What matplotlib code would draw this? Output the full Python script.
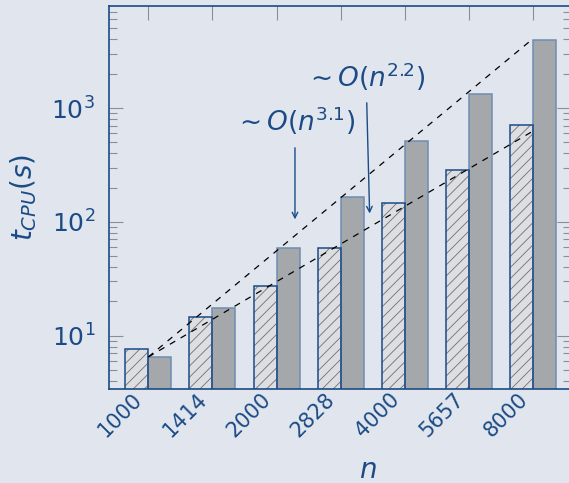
import numpy as np
import matplotlib
matplotlib.use("Agg")
import matplotlib.pyplot as plt
from matplotlib.ticker import LogLocator, NullFormatter, FixedLocator
import matplotlib.transforms as mtransforms

plt.rcParams['mathtext.fontset'] = 'dejavusans'
plt.rcParams['font.family'] = ['DejaVu Sans']
plt.rcParams['hatch.linewidth'] = 0.6

# problem sizes and measured CPU times (seconds)
n_labels = ["1000", "1414", "2000", "2828", "4000", "5657", "8000"]
n_values = [1000, 1414, 2000, 2828, 4000, 5657, 8000]
t_method_a = [7.6, 14.7, 27.2, 58.6, 146, 286, 711]
t_method_b = [6.5, 17.4, 59.0, 164, 512, 1336, 3960]

# reference scaling exponents
exp_fast = 2.2
exp_slow = 3.1
t_ref = 6.5

BG = "#e1e6ee"
BLUE = "#1b4b86"
BLUE_LIGHT = "#6d8db4"

fig = plt.figure(figsize=(5.69, 4.83), dpi=100, facecolor=BG)
ax = fig.add_axes([109 / 569, 1 - 389.3 / 483, (571 - 109) / 569, (389.3 - 6) / 483])
ax.set_facecolor(BG)

x = np.arange(len(n_labels))
w = 0.358
# hatched bars: fill + grey hatch, then the blue outline on top
ax.bar(x - w / 2, t_method_a, width=w, color="#dcdee1", edgecolor="#6e7075",
       hatch="///", linewidth=0, zorder=2)
ax.bar(x - w / 2, t_method_a, width=w, facecolor="none", edgecolor=BLUE,
       linewidth=1.1, zorder=2.1)
ax.bar(x + w / 2, t_method_b, width=w, color="#a5a8ab",
       edgecolor=BLUE_LIGHT, linewidth=1.1, zorder=2)

n_arr = np.array(n_values, dtype=float)
ax.plot(x, t_ref * (n_arr / n_arr[0]) ** exp_slow, ls=(0, (5, 5)), color="black", lw=0.9, zorder=3)
ax.plot(x, t_ref * (n_arr / n_arr[0]) ** exp_fast, ls=(0, (5, 5)), color="black", lw=0.9, zorder=3)

ax.set_yscale("log")
ax.set_xlim(-0.612, 6.585)
ax.set_ylim(3.38, 7875)

ax.set_xticks(x)
ax.set_xticklabels(n_labels, rotation=45, ha="right", va="center",
                   rotation_mode="anchor", fontsize=15, color=BLUE)
ax.tick_params(axis="x", which="both", bottom=False, top=True, direction="in",
               length=10, width=0.8, color="#8a8f96", pad=5)
ax.tick_params(axis="y", which="major", left=True, right=True, direction="in",
               length=10, width=0.8, color="#8a8f96", labelsize=18,
               labelcolor=BLUE, pad=10)
ax.tick_params(axis="y", which="minor", left=True, right=True, direction="in",
               length=6, width=0.8, color="#8a8f96")
ax.yaxis.set_major_locator(FixedLocator([10, 100, 1000]))
ax.yaxis.set_minor_locator(LogLocator(base=10, subs=np.arange(2, 10)))
ax.yaxis.set_minor_formatter(NullFormatter())

# nudge the rotated labels left of their tick
shift = mtransforms.ScaledTranslation(-9 / 100, 0, fig.dpi_scale_trans)
for lbl in ax.get_xticklabels():
    lbl.set_transform(lbl.get_transform() + shift)

for s in ax.spines.values():
    s.set_color(BLUE)
    s.set_linewidth(1.2)

ax.set_ylabel(r"$t_{CPU}(s)$", fontsize=20, color=BLUE)
ax.yaxis.set_label_coords(-70 / 462, 0.5)
ax.set_xlabel(r"$n$", fontsize=20, color=BLUE)
ax.xaxis.set_label_coords((368 - 109) / 462, -(470 - 389.3) / 383.3)
ax.xaxis.label.set_va("center")

# scaling annotations
ax.text(2.285, 769, r"$\sim O(n^{3.1})$", fontsize=19, color=BLUE, ha="center", va="center")
ax.annotate("", xy=(2.285, 99.4), xytext=(2.285, 473),
            arrowprops=dict(arrowstyle="->", color=BLUE, lw=1.0))
ax.text(3.375, 1872, r"$\sim O(n^{2.2})$", fontsize=19, color=BLUE, ha="center", va="center")
ax.annotate("", xy=(3.449, 112), xytext=(3.402, 1176),
            arrowprops=dict(arrowstyle="->", color=BLUE, lw=1.0))

fig.savefig("out.png", dpi=100, facecolor=BG)
